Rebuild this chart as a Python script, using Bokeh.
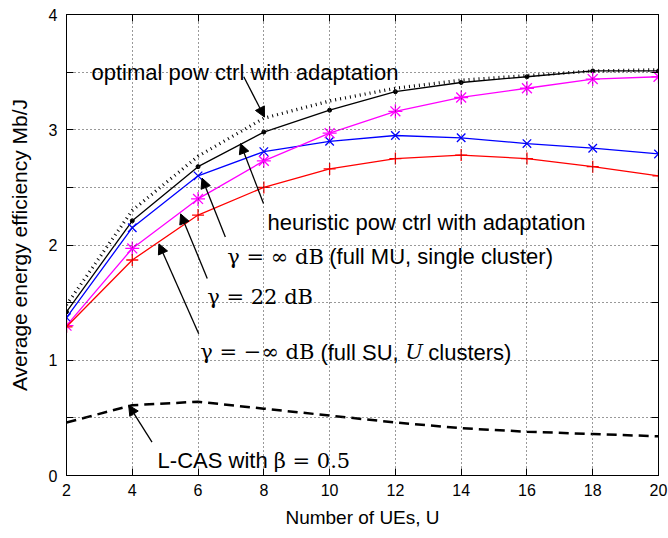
from bokeh.plotting import figure
from bokeh.models import Range1d, Label, Arrow, NormalHead, FixedTicker, LinearAxis
from bokeh.embed import file_html
from bokeh.resources import INLINE

# ---------------- data ----------------
U = [2, 4, 6, 8, 10, 12, 14, 16, 18, 20]
ee_optimal = [1.48, 2.30, 2.77, 3.10, 3.25, 3.36, 3.43, 3.47, 3.51, 3.52]
ee_heuristic = [1.42, 2.21, 2.68, 2.98, 3.17, 3.33, 3.41, 3.46, 3.51, 3.51]
ee_gamma_inf = [1.37, 2.15, 2.60, 2.81, 2.90, 2.95, 2.93, 2.88, 2.84, 2.79]
ee_gamma_22 = [1.30, 1.97, 2.40, 2.73, 2.97, 3.16, 3.28, 3.36, 3.44, 3.46]
ee_gamma_minf = [1.29, 1.87, 2.26, 2.50, 2.66, 2.75, 2.78, 2.75, 2.68, 2.60]
ee_lcas = [0.46, 0.61, 0.64, 0.58, 0.52, 0.46, 0.41, 0.38, 0.36, 0.34]

x_ticks = [2, 4, 6, 8, 10, 12, 14, 16, 18, 20]
y_ticks = [0, 1, 2, 3, 4]
y_minor_ticks = [0.5, 1.5, 2.5, 3.5]

SANS = "Liberation Sans"
SERIF = "DejaVu Serif"

p = figure(width=668, height=538, x_range=Range1d(2, 20), y_range=Range1d(0, 4),
           output_backend="svg", toolbar_location=None,
           min_border_left=66, min_border_right=10, min_border_top=14, min_border_bottom=63)
p.background_fill_color = None
p.border_fill_color = None
p.outline_line_color = "black"
p.outline_line_width = 1
p.outline_line_alpha = 1

xt = FixedTicker(ticks=x_ticks)
yt = FixedTicker(ticks=y_ticks, minor_ticks=y_minor_ticks)
xax = p.xaxis[0]
yax = p.yaxis[0]
xax.ticker = xt
yax.ticker = yt
p.xgrid.ticker = xt
p.ygrid.ticker = yt

def tick_style(ax):
    ax.axis_line_color = "black"
    ax.major_tick_in = 7
    ax.major_tick_out = 0
    ax.minor_tick_in = 7
    ax.minor_tick_out = 0
    ax.major_tick_line_color = "black"
    ax.minor_tick_line_color = "black"

for ax in (xax, yax):
    tick_style(ax)
    ax.major_label_text_font = SANS
    ax.major_label_text_font_size = "16px"
    ax.major_label_text_color = "black"
    ax.axis_label_text_font = SANS
    ax.axis_label_text_font_style = "normal"
    ax.axis_label_text_color = "black"

xax.major_label_standoff = 8
yax.major_label_standoff = 9
xax.axis_label = "Number of UEs, U"
xax.axis_label_text_font_size = "19px"
xax.axis_label_standoff = 8
yax.axis_label = "Average energy efficiency Mb/J"
yax.axis_label_text_font_size = "21px"
yax.axis_label_standoff = 15

# mirrored tick marks on top and right (no labels)
top_ax = LinearAxis(ticker=xt)
right_ax = LinearAxis(ticker=yt)
for ax in (top_ax, right_ax):
    tick_style(ax)
    ax.major_label_text_color = None
    ax.major_label_text_font_size = "0px"
    ax.major_label_standoff = 0
p.add_layout(top_ax, "above")
p.add_layout(right_ax, "right")

# grid (dotted)
for g in (p.xgrid[0], p.ygrid[0]):
    g.grid_line_color = "#333333"
    g.grid_line_dash = "1 3"
    g.grid_line_width = 1
    g.grid_line_alpha = 1
    g.level = "glyph"
p.ygrid[0].minor_grid_line_color = "#333333"
p.ygrid[0].minor_grid_line_dash = "1 3"
p.ygrid[0].minor_grid_line_width = 1

# series
p.line(U, ee_optimal, color="black", line_width=3.3, line_dash="1 4")
p.line(U, ee_heuristic, color="black", line_width=1.3)
p.scatter(U, ee_heuristic, marker="circle", size=4, color="black")
p.line(U, ee_gamma_inf, color="#0000FF", line_width=1.3)
p.scatter(U, ee_gamma_inf, marker="x", size=12, line_color="#0000FF", line_width=1.3)
p.line(U, ee_gamma_22, color="#FF00FF", line_width=1.3)
p.scatter(U, ee_gamma_22, marker="asterisk", size=14, line_color="#FF00FF", line_width=1.3)
p.line(U, ee_gamma_minf, color="#FF0000", line_width=1.3)
p.scatter(U, ee_gamma_minf, marker="cross", size=12, line_color="#FF0000", line_width=1.3)
p.line(U, ee_lcas, color="black", line_width=2.5, line_dash="10 6")

# annotations
def lab(x, y, text, font=SANS, size="22px", style="normal"):
    p.add_layout(Label(x=x, y=y, text=text, text_font=font, text_font_size=size,
                       text_font_style=style, text_baseline="alphabetic",
                       text_color="black"))

def arrow(x0, y0, x1, y1):
    p.add_layout(Arrow(end=NormalHead(size=10, fill_color="black", line_color="black", line_width=1),
                       x_start=x0, y_start=y0, x_end=x1, y_end=y1,
                       line_color="black", line_width=1.3))

lab(2.76, 3.50, "optimal pow ctrl with adaptation")
arrow(7.39, 3.46, 8.02, 3.11)

lab(8.11, 2.195, "heuristic pow ctrl with adaptation")
arrow(7.99, 2.36, 7.29, 2.88)

lab(6.89, 1.90, "γ = ∞ dB", font=SERIF, size="21px")
lab(9.99, 1.90, "(full MU, single cluster)")
arrow(6.83, 2.07, 6.12, 2.58)

lab(6.28, 1.547, "γ = 22 dB", font=SERIF, size="21px")
arrow(6.28, 1.71, 5.47, 2.27)

lab(6.07, 1.07, "γ = −∞ dB", font=SERIF, size="21px")
lab(9.72, 1.07, "(full SU,")
lab(12.30, 1.07, "U", font=SERIF, size="21px", style="italic")
lab(13.00, 1.07, "clusters)")
arrow(6.02, 1.23, 4.81, 2.01)

lab(4.77, 0.13, "L-CAS with")
lab(8.30, 0.13, "β = 0.5", font=SERIF, size="21px")
arrow(4.60, 0.29, 3.89, 0.61)

open("out.html", "w").write(file_html(p, INLINE))
